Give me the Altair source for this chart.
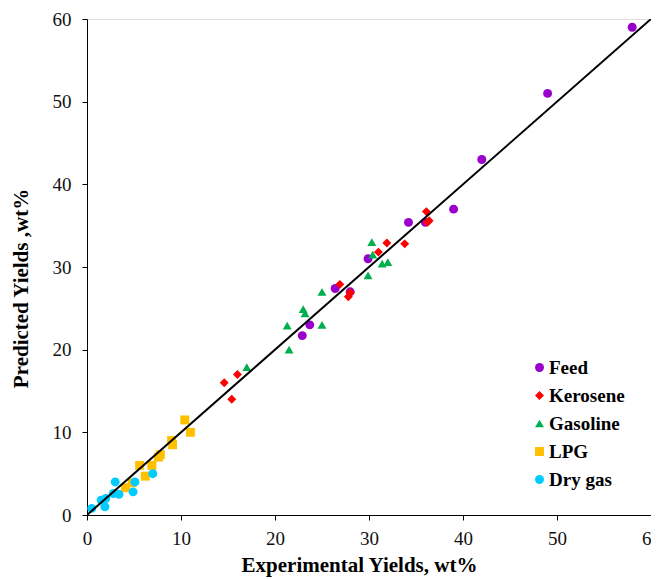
import altair as alt
import pandas as pd

series = ["Feed", "Kerosene", "Gasoline", "LPG", "Dry gas"]
colors = ["#9900CC", "#FF0000", "#00B050", "#FFC000", "#00CCFF"]
shapes = ["circle", "diamond", "triangle-up", "square", "circle"]
sizes = [80, 80, 95, 90, 80]

feed_x = [22.9, 23.7, 26.4, 28.0, 29.9, 34.2, 36.0, 39.0, 42.0, 49.0, 58.0]
feed_y = [21.7, 23.0, 27.4, 27.0, 31.0, 35.4, 35.4, 37.0, 43.0, 51.0, 59.0]

kero_x = [14.6, 15.4, 16.0, 26.9, 27.8, 28.0, 31.0, 31.9, 33.8, 36.1, 36.4, 36.2]
kero_y = [16.0, 14.0, 17.0, 27.9, 26.4, 26.9, 31.8, 32.9, 32.8, 36.7, 35.6, 35.4]

gas_x = [17.0, 21.3, 21.5, 23.0, 23.2, 25.0, 25.0, 29.9, 30.3, 30.4, 31.4, 32.0]
gas_y = [17.9, 22.9, 20.0, 24.9, 24.4, 27.0, 23.0, 29.0, 33.0, 31.5, 30.4, 30.6]

lpg_x = [4.1, 4.8, 5.6, 6.2, 6.9, 7.6, 7.8, 9.0, 9.1, 10.4, 11.0]
lpg_y = [3.3, 3.9, 6.0, 4.7, 6.0, 7.0, 7.3, 9.0, 8.5, 11.5, 10.0]

dry_x = [0.5, 1.5, 2.0, 1.9, 3.0, 2.8, 3.4, 5.1, 4.9, 7.0]
dry_y = [0.8, 1.8, 2.0, 1.0, 4.0, 2.6, 2.5, 4.0, 2.8, 5.0]

line_x = [0, 60]
line_y = [0, 60]

tick_values = [0, 10, 20, 30, 40, 50, 60]

rows = []
for name, xs, ys in [("Feed", feed_x, feed_y), ("Kerosene", kero_x, kero_y),
                     ("Gasoline", gas_x, gas_y), ("LPG", lpg_x, lpg_y),
                     ("Dry gas", dry_x, dry_y)]:
    for a, b in zip(xs, ys):
        rows.append({"series": name, "exp": a, "pred": b})
df = pd.DataFrame(rows)
line_df = pd.DataFrame({"exp": line_x, "pred": line_y})

FONT = "Liberation Serif"
xscale = alt.Scale(domain=[0, 60], nice=False, zero=False)
yscale = alt.Scale(domain=[0, 60], nice=False, zero=False)

xaxis = alt.Axis(values=tick_values, title="Experimental Yields, wt%",
                 grid=False, tickSize=5, labelFontSize=19, labelFont=FONT,
                 labelColor="#111", titleFont=FONT, titleFontSize=21,
                 titleFontWeight="bold", titleColor="#000", domainColor="#000",
                 tickColor="#000", labelPadding=9, titleX=272, titleY=56,
                 titleBaseline="alphabetic", labelFlush=False)
yaxis = alt.Axis(values=tick_values, title="Predicted Yields ,wt%",
                 grid=False, tickSize=5, labelFontSize=19, labelFont=FONT,
                 labelColor="#111", titleFont=FONT, titleFontSize=21,
                 titleFontWeight="bold", titleColor="#000", domainColor="#000",
                 tickColor="#000", labelPadding=11, titleX=-66, titleY=269,
                 titleBaseline="middle", labelFlush=False)

pts = alt.Chart(df).mark_point(filled=True, opacity=1, strokeWidth=0).encode(
    x=alt.X("exp:Q", scale=xscale, axis=xaxis),
    y=alt.Y("pred:Q", scale=yscale, axis=yaxis),
    color=alt.Color("series:N", sort=series,
                    scale=alt.Scale(domain=series, range=colors),
                    legend=alt.Legend(title=None, orient="none", legendX=443, legendY=339,
                                      labelFont=FONT, labelFontSize=19,
                                      labelFontWeight="bold", labelColor="#000",
                                      symbolSize=60, rowPadding=8, labelOffset=0,
                                      symbolStrokeWidth=0)),
    shape=alt.Shape("series:N", sort=series,
                    scale=alt.Scale(domain=series, range=shapes)),
    size=alt.Size("series:N", scale=alt.Scale(domain=series, range=sizes), legend=None),
)

line = alt.Chart(line_df).mark_line(color="#000", strokeWidth=2, clip=True).encode(
    x=alt.X("exp:Q", scale=xscale, axis=xaxis),
    y=alt.Y("pred:Q", scale=yscale, axis=yaxis),
)

chart = alt.layer(pts, line).properties(
    width=564, height=496,
    autosize=alt.AutoSizeParams(type="none"),
    padding={"left": 79, "top": 11, "right": 0, "bottom": 70},
).configure_view(stroke="#777", strokeWidth=1.5).configure(background="white")

chart.save("out.html", embed_options={"renderer": "svg", "actions": False})
